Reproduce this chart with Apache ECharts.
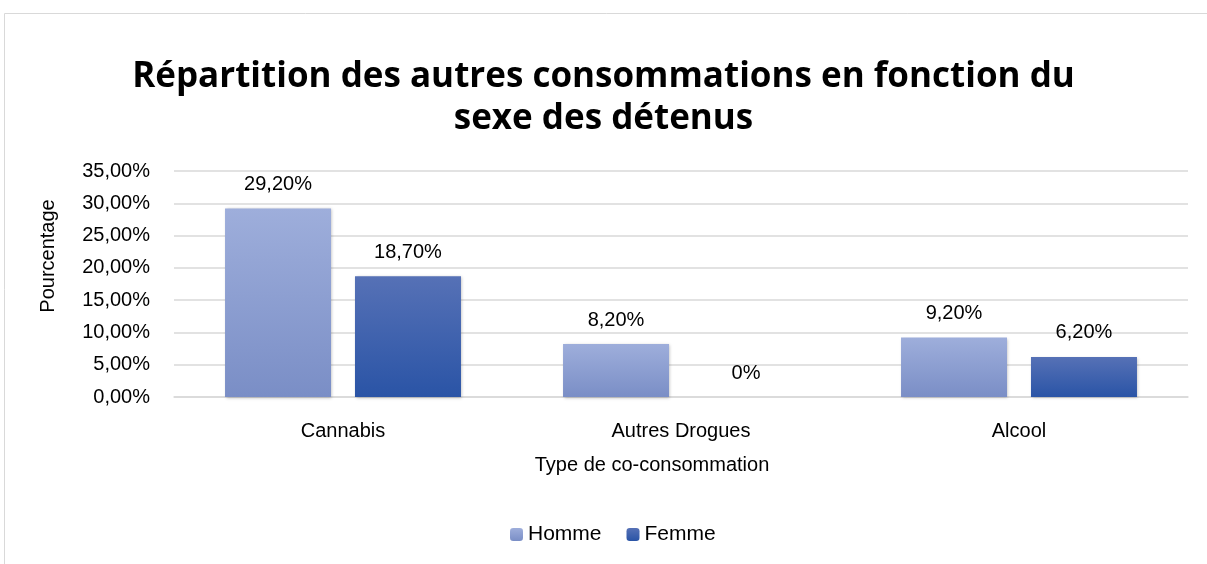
<!DOCTYPE html>
<html>
<head>
<meta charset="utf-8">
<script src="https://cdn.jsdelivr.net/npm/echarts@6/dist/echarts.min.js"></script>
<style>
  html, body { margin: 0; padding: 0; background: #fff; }
  #chart { width: 1207px; height: 564px; }
</style>
</head>
<body>
<div id="chart"></div>
<script>
// données
const categories = ["Cannabis", "Autres Drogues", "Alcool"];
const homme = [29.2, 8.2, 9.2];
const femme = [18.7, 0, 6.2];
const yTicks = { min: 0, max: 35, interval: 5 };

const fontFam = "'Liberation Sans', Arial, sans-serif";
const titleFam = "'Open Sans', 'Noto Sans', sans-serif";

function pct(v) {
  return v.toFixed(2).replace(".", ",") + "%";
}
function labelFmt(p) {
  if (p.value === 0) return "0%";
  return p.value.toFixed(2).replace(".", ",") + "%";
}

const chart = echarts.init(document.getElementById("chart"));
chart.setOption({
  animation: false,
  textStyle: { fontFamily: fontFam },
  graphic: [
    {
      type: "rect",
      shape: { x: 4.5, y: 13.5, width: 1220, height: 570 },
      style: { fill: "none", stroke: "#d9d9d9", lineWidth: 1 }
    },
    {
      type: "text",
      x: 652,
      y: 465,
      style: {
        text: "Type de co-consommation", fontSize: 20, fill: "#000", fontFamily: fontFam,
        align: "center", verticalAlign: "middle"
      }
    },
    {
      type: "text",
      x: 48,
      y: 256,
      rotation: Math.PI / 2,
      style: {
        text: "Pourcentage", fontSize: 20, fill: "#000", fontFamily: fontFam,
        align: "center", verticalAlign: "middle"
      }
    }
  ],
  title: {
    text: "Répartition des autres consommations en fonction du\nsexe des détenus",
    left: "center",
    top: 51,
    textStyle: { fontSize: 35, fontWeight: "bold", color: "#000", lineHeight: 42, fontFamily: titleFam }
  },
  legend: {
    bottom: 14,
    left: 505,
    itemWidth: 13,
    itemHeight: 13,
    itemGap: 25,
    textStyle: { fontSize: 21, color: "#000" },
    data: ["Homme", "Femme"]
  },
  grid: { left: 174, right: 19, top: 171, bottom: 167, containLabel: false },
  xAxis: {
    type: "category",
    data: categories,
    axisLine: { lineStyle: { color: "#d9d9d9", width: 1.5 } },
    axisTick: { show: false },
    axisLabel: { fontSize: 20, color: "#000", margin: 24 }
  },
  yAxis: {
    type: "value",
    min: yTicks.min,
    max: yTicks.max,
    interval: yTicks.interval,
    axisLabel: { fontSize: 20, color: "#000", margin: 24, formatter: pct },
    splitLine: { lineStyle: { color: "#d9d9d9", width: 1.5 } },
    axisLine: { show: false },
    axisTick: { show: false }
  },
  series: [
    {
      name: "Homme",
      type: "bar",
      data: homme,
      barWidth: 106,
      barGap: "22.6%",
      itemStyle: {
        color: new echarts.graphic.LinearGradient(0, 0, 0, 1, [
          { offset: 0, color: "#9eaedb" },
          { offset: 1, color: "#7a8ec6" }
        ]),
        shadowColor: "rgba(0,0,0,0.25)",
        shadowBlur: 3,
        shadowOffsetX: 1,
        shadowOffsetY: 1
      },
      label: { show: true, position: "top", distance: 14, fontSize: 20, color: "#000", formatter: labelFmt }
    },
    {
      name: "Femme",
      type: "bar",
      data: femme,
      barWidth: 106,
      itemStyle: {
        color: new echarts.graphic.LinearGradient(0, 0, 0, 1, [
          { offset: 0, color: "#5671b6" },
          { offset: 1, color: "#2a54a6" }
        ]),
        shadowColor: "rgba(0,0,0,0.25)",
        shadowBlur: 3,
        shadowOffsetX: 1,
        shadowOffsetY: 1
      },
      label: { show: true, position: "top", distance: 14, fontSize: 20, color: "#000", formatter: labelFmt }
    }
  ]
});
</script>
</body>
</html>
